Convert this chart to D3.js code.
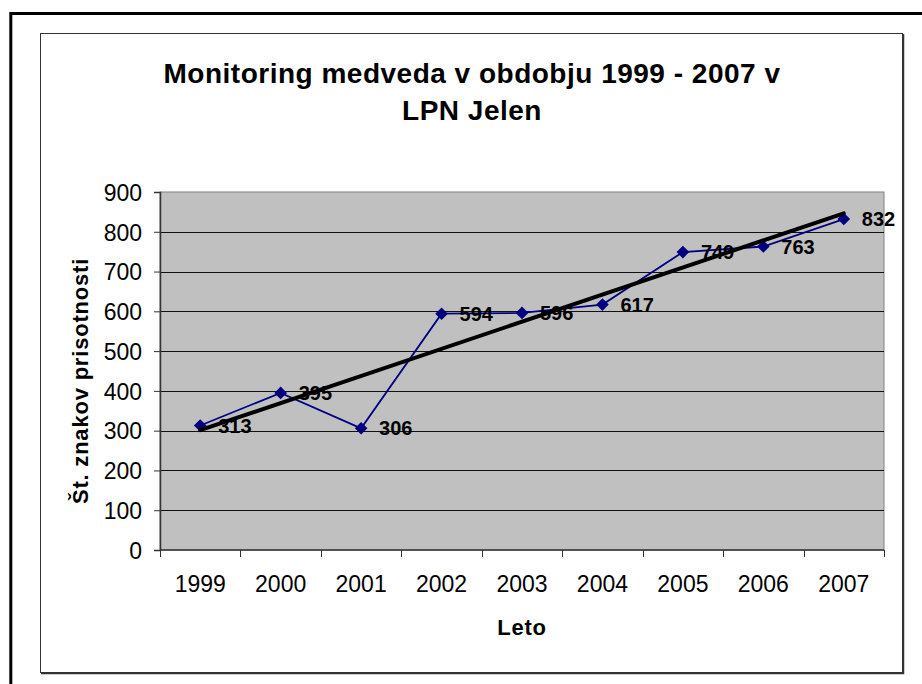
<!DOCTYPE html>
<html>
<head>
<meta charset="utf-8">
<script src="https://cdn.jsdelivr.net/npm/d3@7"></script>
<style>
  html, body { margin: 0; padding: 0; background: #fff; }
  svg { display: block; font-family: "Liberation Sans", Arial, sans-serif; }
</style>
</head>
<body>
<svg id="chart" width="922" height="684"></svg>
<script>
const titleLines = ["Monitoring medveda v obdobju 1999 - 2007 v", "LPN Jelen"];
const years = ["1999", "2000", "2001", "2002", "2003", "2004", "2005", "2006", "2007"];
const counts = [313, 395, 306, 594, 596, 617, 749, 763, 832];
const yTicks = [0, 100, 200, 300, 400, 500, 600, 700, 800, 900];
const xTitle = "Leto";
const yTitle = "Št. znakov prisotnosti";

const svg = d3.select("#chart");

// outer page frame
svg.append("rect").attr("x", 10.8).attr("y", 13.5).attr("width", 1000).attr("height", 1000)
  .attr("fill", "none").attr("stroke", "#000").attr("stroke-width", 3);

// chart area frame
svg.append("rect").attr("x", 40.5).attr("y", 33.5).attr("width", 862).attr("height", 639)
  .attr("fill", "#fff").attr("stroke", "#333").attr("stroke-width", 1);
svg.append("path").attr("d", "M903.5,34V673.5H41").attr("fill", "none").attr("stroke", "#333").attr("stroke-width", 1.5);

const plot = { left: 160, right: 884, top: 192, bottom: 550 };

const x = d3.scaleBand().domain(years).range([plot.left, plot.right]).padding(0);
const y = d3.scaleLinear().domain([0, 900]).range([plot.bottom, plot.top]);

// plot background
svg.append("rect").attr("x", plot.left).attr("y", plot.top)
  .attr("width", plot.right - plot.left).attr("height", plot.bottom - plot.top)
  .attr("fill", "#c0c0c0").attr("stroke", "#808080").attr("stroke-width", 1);

// gridlines
svg.append("g").selectAll("line").data(yTicks.filter(d => d > 0 && d < 900)).join("line")
  .attr("x1", plot.left).attr("x2", plot.right)
  .attr("y1", d => Math.round(y(d)) + 0.5).attr("y2", d => Math.round(y(d)) + 0.5)
  .attr("stroke", "#111").attr("stroke-width", 1);

// y axis
const yAxis = d3.axisLeft(y).tickValues(yTicks).tickSize(6).tickPadding(12);
const yg = svg.append("g").attr("transform", `translate(${plot.left},0)`).call(yAxis);
yg.select(".domain").attr("stroke", "#333").attr("stroke-width", 1.5);
yg.selectAll(".tick line").attr("stroke", "#333");
yg.selectAll(".tick text").attr("font-size", 23).attr("fill", "#000")
  .attr("font-family", "'Liberation Sans', Arial, sans-serif").attr("dy", "0.36em");

// x axis
const xg = svg.append("g").attr("transform", `translate(0,${plot.bottom})`);
xg.append("line").attr("x1", plot.left).attr("x2", plot.right).attr("y1", 0).attr("y2", 0)
  .attr("stroke", "#333").attr("stroke-width", 1.5);
const bounds = years.map(d => x(d)).concat([x(years[years.length - 1]) + x.bandwidth()]);
xg.selectAll("line.tk").data(bounds).join("line").attr("class", "tk")
  .attr("x1", d => Math.round(d) + 0.5).attr("x2", d => Math.round(d) + 0.5)
  .attr("y1", 0).attr("y2", 7).attr("stroke", "#333");
xg.selectAll("text").data(years).join("text")
  .attr("x", d => x(d) + x.bandwidth() / 2).attr("y", 42)
  .attr("text-anchor", "middle").attr("font-size", 23).attr("fill", "#000")
  .text(d => d);

// axis titles
svg.append("text").attr("x", (plot.left + plot.right) / 2).attr("y", 635)
  .attr("text-anchor", "middle").attr("font-size", 22).attr("font-weight", "bold")
  .attr("letter-spacing", 0.8).text(xTitle);
svg.append("text").attr("transform", `translate(88,${(plot.top + plot.bottom) / 2 + 10}) rotate(-90)`)
  .attr("text-anchor", "middle").attr("font-size", 22).attr("font-weight", "bold")
  .attr("letter-spacing", 0.8).text(yTitle);

// title
svg.append("g").selectAll("text").data(titleLines).join("text")
  .attr("x", 472).attr("y", (d, i) => 83 + i * 37)
  .attr("text-anchor", "middle").attr("font-size", 28).attr("font-weight", "bold")
  .attr("letter-spacing", 0.5).text(d => d);

const cx = d => x(d) + x.bandwidth() / 2;

// data line
svg.append("path").datum(counts)
  .attr("d", d3.line().x((d, i) => cx(years[i])).y(d => y(d)))
  .attr("fill", "none").attr("stroke", "#000080").attr("stroke-width", 1.8);

// markers
svg.append("g").selectAll("path").data(counts).join("path")
  .attr("transform", (d, i) => `translate(${cx(years[i])},${y(d)}) rotate(45)`)
  .attr("d", d3.symbol().type(d3.symbolSquare).size(80)())
  .attr("fill", "#000080");

// linear trendline (least squares over the series)
const idx = counts.map((d, i) => i);
const mx = d3.mean(idx), my = d3.mean(counts);
const slope = d3.sum(idx, i => (i - mx) * (counts[i] - my)) / d3.sum(idx, i => (i - mx) ** 2);
const icpt = my - slope * mx;
const trend = [0, counts.length - 1].map(i => ({ yr: years[i], v: icpt + slope * i }));
svg.append("path").datum(trend)
  .attr("d", d3.line().x(d => cx(d.yr)).y(d => y(d.v)))
  .attr("fill", "none").attr("stroke", "#000").attr("stroke-width", 4).attr("stroke-linecap", "round");

// data labels
svg.append("g").selectAll("text").data(counts).join("text")
  .attr("x", (d, i) => cx(years[i]) + 18).attr("y", d => y(d)).attr("dy", "0.36em")
  .attr("font-size", 20).attr("font-weight", "bold").attr("fill", "#000")
  .text(d => d);
</script>
</body>
</html>
